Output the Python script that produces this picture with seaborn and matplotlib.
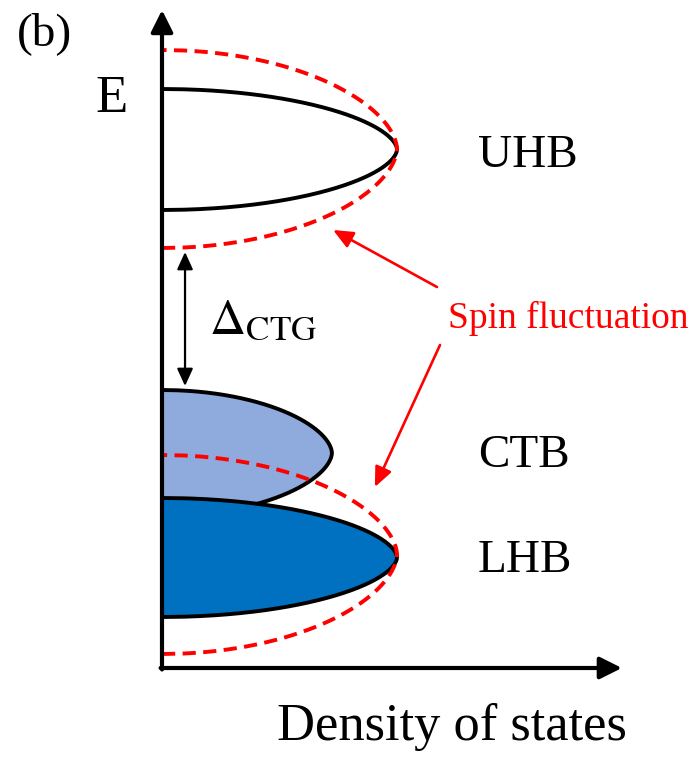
import numpy as np
import pandas as pd
import matplotlib
matplotlib.use("Agg")
import matplotlib.pyplot as plt
import seaborn as sns

# ---------------- data (schematic band parameters) ----------------
bands = ["UHB", "CTB", "LHB"]
band_center = [5.185, 2.15, 1.105]      # energy of band centre
band_halfwidth = [0.605, 0.63, 0.595]   # half band width (energy)
band_peak = [1.0, 0.723, 1.0]           # peak density of states
band_fill = [None, "#8FAADC", "#0070C0"]

spin_bands = ["UHB", "LHB"]
spin_center = [5.19, 1.135]
spin_halfwidth = [0.99, 0.995]
spin_peak = [1.0, 1.0]

label_dos = [1.345, 1.345, 1.345]
label_energy = [5.01, 2.01, 0.96]

gap_dos = 0.098
gap_energy = [4.16, 2.82]

spin_text = "Spin fluctuation"
spin_text_pos = (1.217, 3.40)
spin_arrow_tails = [(1.170, 3.81), (1.183, 3.23)]
spin_arrow_heads = [(0.728, 4.38), (0.906, 1.81)]

SHAPE_P = 1.75


def band_shape(center, half, peak, n=400):
    e = np.linspace(center - half, center + half, n)
    v = np.abs((e - center) / half)
    dos = peak * np.sqrt(np.clip(1 - v ** SHAPE_P, 0, 1))
    return pd.DataFrame({"dos": dos, "E": e})


# ---------------- style ----------------
sns.set_theme(style="white")
plt.rcParams["font.family"] = ["Liberation Serif", "DejaVu Serif"]
plt.rcParams["mathtext.fontset"] = "stix"
plt.rcParams["text.color"] = "black"

fig = plt.figure(figsize=(6.95, 7.58), dpi=100)
ax = fig.add_axes([0, 0, 1, 1])
ax.set_xlim(-162 / 235, (695 - 162) / 235)
ax.set_ylim(-0.90, 6.68)
ax.axis("off")

# ---------------- bands ----------------
draw_order = ["UHB", "CTB", "LHB"]
for name in draw_order:
    i = bands.index(name)
    df = band_shape(band_center[i], band_halfwidth[i], band_peak[i])
    if band_fill[i] is not None:
        ax.fill_betweenx(df["E"], 0, df["dos"], color=band_fill[i], lw=0, zorder=2 + i)
    sns.lineplot(data=df, x="dos", y="E", sort=False, estimator=None,
                 color="black", lw=2.8, ax=ax, zorder=2.5 + i)

for i, name in enumerate(spin_bands):
    df = band_shape(spin_center[i], spin_halfwidth[i], spin_peak[i])
    sns.lineplot(data=df, x="dos", y="E", sort=False, estimator=None,
                 color="#FF0000", lw=2.8, ax=ax, zorder=8)
    ax.lines[-1].set_dashes((3.4, 1.9))

# ---------------- axes arrows ----------------
axis_style = dict(arrowstyle="-|>,head_length=0.7,head_width=0.35",
                  lw=3.0, color="black", shrinkA=0, shrinkB=0, mutation_scale=19)
ax.annotate("", xy=(0, 6.58), xytext=(0, -0.015), arrowprops=axis_style, zorder=10)
ax.annotate("", xy=(1.957, 0), xytext=(-0.006, 0), arrowprops=axis_style, zorder=10)

# ---------------- gap arrow ----------------
ax.annotate("", xy=(gap_dos, gap_energy[0]), xytext=(gap_dos, gap_energy[1]),
            arrowprops=dict(arrowstyle="<|-|>,head_length=0.7,head_width=0.32",
                            lw=1.6, color="black", shrinkA=0, shrinkB=0,
                            mutation_scale=15), zorder=10)
ax.text(0.20, 3.35, r"$\Delta_{\rm CTG}$", fontsize=36, color="black",
        ha="left", va="baseline")

# ---------------- spin fluctuation ----------------
ax.text(spin_text_pos[0], spin_text_pos[1], spin_text, fontsize=27,
        color="#FF0000", ha="left", va="baseline")
for tail, head in zip(spin_arrow_tails, spin_arrow_heads):
    ax.annotate("", xy=head, xytext=tail,
                arrowprops=dict(arrowstyle="-|>,head_length=0.8,head_width=0.35",
                                lw=1.9, color="#FF0000", shrinkA=0, shrinkB=0,
                                mutation_scale=15), zorder=10)

# ---------------- labels ----------------
for i, name in enumerate(bands):
    ax.text(label_dos[i], label_energy[i], name, fontsize=34,
            ha="left", va="baseline", color="black")

ax.text(0.489, -0.72, "Density of states", fontsize=37.8, ha="left", va="baseline")
ax.text(-0.285, 5.56, "E", fontsize=38, ha="left", va="baseline")
ax.text(-0.617, 6.23, "(b)", fontsize=34, ha="left", va="baseline")

fig.savefig("out.png", dpi=100)
